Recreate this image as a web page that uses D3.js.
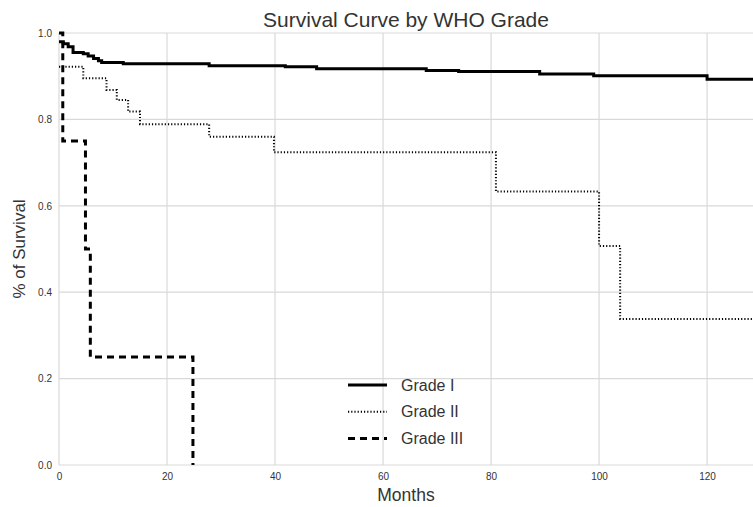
<!DOCTYPE html>
<html>
<head>
<meta charset="utf-8">
<script src="https://cdn.jsdelivr.net/npm/d3@7"></script>
<style>
  html, body { margin: 0; padding: 0; background: #fff; }
  svg { display: block; font-family: "Liberation Sans", Arial, sans-serif; }
</style>
</head>
<body>
<svg id="chart" width="753" height="507"></svg>
<script>
// Kaplan-Meier step estimates per WHO grade (time in months, survival fraction)
const gradeITimes  = [0, 0.8, 1.7, 2.6, 4.5, 5.4, 6.4, 7.3, 7.9, 11.9, 27.8, 41.9, 47.7, 68, 74, 89, 99, 120];
const gradeIValues = [0.980, 0.975, 0.968, 0.955, 0.952, 0.947, 0.941, 0.936, 0.932, 0.929, 0.924, 0.922, 0.917, 0.913, 0.911, 0.905, 0.901, 0.893];

const gradeIITimes  = [0, 4.5, 8.8, 10.7, 12.8, 15, 27.8, 39.8, 80.9, 100, 103.9];
const gradeIIValues = [0.922, 0.895, 0.868, 0.845, 0.818, 0.789, 0.760, 0.724, 0.633, 0.507, 0.338];

const gradeIIITimes  = [0, 0.7, 4.9, 5.8, 24.8];
const gradeIIIValues = [1.0, 0.75, 0.5, 0.25, 0.0];

const seriesNames = ["Grade I", "Grade II", "Grade III"];
const xTicks = [0, 20, 40, 60, 80, 100, 120];
const yTicks = [0.0, 0.2, 0.4, 0.6, 0.8, 1.0];
const followUpEnd = 128.5;

const svg = d3.select("#chart");
const margin = { left: 59, right: 0, top: 33, bottom: 42 };
const W = 753, H = 507;

const x = d3.scaleLinear().domain([0, followUpEnd]).range([margin.left, W - margin.right]);
const y = d3.scaleLinear().domain([0, 1]).range([H - margin.bottom, margin.top]);

const gridColor = "#d9d9d9";
const textColor = "#333";

// grid
svg.append("g").selectAll("line").data(xTicks).join("line")
  .attr("x1", d => x(d)).attr("x2", d => x(d))
  .attr("y1", y(0)).attr("y2", y(1))
  .attr("stroke", gridColor).attr("stroke-width", 1.2);
svg.append("g").selectAll("line").data(yTicks).join("line")
  .attr("x1", x(0)).attr("x2", W)
  .attr("y1", d => y(d)).attr("y2", d => y(d))
  .attr("stroke", gridColor).attr("stroke-width", 1.2);

// axes (labels only, seaborn-like)
const xAxis = d3.axisBottom(x).tickValues(xTicks).tickSize(0).tickPadding(8).tickFormat(d3.format("d"));
const gx = svg.append("g").attr("transform", `translate(0,${y(0)})`).call(xAxis);
gx.select(".domain").remove();
gx.selectAll("text").attr("fill", textColor).style("font-size", "10px").style("font-family", "Liberation Sans, Arial, sans-serif");

const yAxis = d3.axisLeft(y).tickValues(yTicks).tickSize(0).tickPadding(7).tickFormat(d3.format(".1f"));
const gy = svg.append("g").attr("transform", `translate(${x(0)},0)`).call(yAxis);
gy.select(".domain").remove();
gy.selectAll("text").attr("fill", textColor).style("font-size", "10px").style("font-family", "Liberation Sans, Arial, sans-serif");

// survival curves
svg.append("clipPath").attr("id", "plot-clip").append("rect")
  .attr("x", x(0) - 3).attr("y", y(1) - 3).attr("width", W - x(0) + 3).attr("height", y(0) - y(1) + 6);

function steps(times, values, extendTo) {
  const pts = times.map((t, i) => [t, values[i]]);
  if (extendTo != null) pts.push([extendTo, values[values.length - 1]]);
  return pts;
}

const line = d3.line().x(d => x(d[0])).y(d => y(d[1])).curve(d3.curveStepAfter);

const series = [
  { name: seriesNames[0], pts: steps(gradeITimes, gradeIValues, followUpEnd), width: 3, dash: null },
  { name: seriesNames[1], pts: steps(gradeIITimes, gradeIIValues, followUpEnd), width: 2, dash: "1.2 2" },
  { name: seriesNames[2], pts: steps(gradeIIITimes, gradeIIIValues, null), width: 3, dash: "7 5" }
];

const curves = svg.append("g").attr("clip-path", "url(#plot-clip)");
curves.selectAll("path").data(series).join("path")
  .attr("d", d => line(d.pts))
  .attr("fill", "none")
  .attr("stroke", "#000")
  .attr("stroke-width", d => d.width)
  .attr("stroke-dasharray", d => d.dash)
  .attr("stroke-linejoin", "miter");

// legend
const legend = svg.append("g").attr("transform", "translate(348,385)");
const rows = legend.selectAll("g").data(series).join("g")
  .attr("transform", (d, i) => `translate(0,${i * 26.7})`);
rows.append("line")
  .attr("x1", 0).attr("x2", 39).attr("y1", 0).attr("y2", 0)
  .attr("stroke", "#000")
  .attr("stroke-width", d => d.width)
  .attr("stroke-dasharray", d => d.dash);
rows.append("text")
  .attr("x", 53).attr("y", 0).attr("dy", "0.35em")
  .attr("fill", textColor)
  .style("font-size", "16px")
  .text(d => d.name);

// titles
svg.append("text")
  .attr("x", (x(0) + W) / 2).attr("y", 27)
  .attr("text-anchor", "middle")
  .attr("fill", textColor)
  .style("font-size", "21px")
  .text("Survival Curve by WHO Grade");

svg.append("text")
  .attr("x", (x(0) + W) / 2).attr("y", 501)
  .attr("text-anchor", "middle")
  .attr("fill", textColor)
  .style("font-size", "17.5px")
  .text("Months");

svg.append("text")
  .attr("transform", `translate(25,${(y(0) + y(1)) / 2}) rotate(-90)`)
  .attr("text-anchor", "middle")
  .attr("fill", textColor)
  .style("font-size", "17px")
  .text("% of Survival");
</script>
</body>
</html>
